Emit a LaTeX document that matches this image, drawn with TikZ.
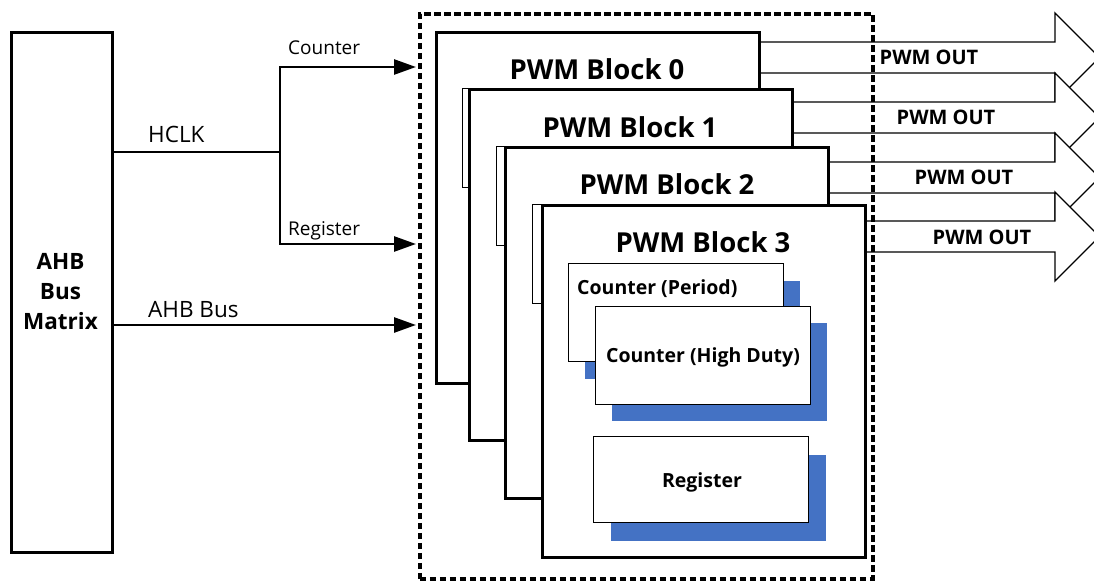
\documentclass[tikz,border=0pt]{standalone}
\usepackage{fontspec}
\setmainfont{Open Sans}
\usetikzlibrary{arrows.meta}
\definecolor{shadowblue}{HTML}{4472C4}
\begin{document}
\begin{tikzpicture}[x=1pt,y=-1pt,
  thickline/.style={line width=2.6pt},
  sig/.style={line width=2.6pt,-{Triangle[length=22pt,width=15pt]}},
  blockbox/.style={draw,line width=2.6pt,fill=white,minimum width=323pt,minimum height=351pt,anchor=north west,inner sep=0pt},
  backbox/.style={draw,line width=1.2pt,fill=white,minimum width=40pt,minimum height=99pt,anchor=north west,inner sep=0pt},
  innerbox/.style={draw,line width=1.4pt,fill=white,minimum width=215pt,anchor=north west,inner sep=0pt},
  shadowbox/.style={fill=shadowblue,minimum width=215pt,anchor=north west,inner sep=0pt},
  outarrow/.style={draw,line width=1.3pt,fill=white,line join=miter},
  title/.style={font=\fontsize{27.5}{30}\selectfont\bfseries,anchor=base,inner sep=0pt},
  outlabel/.style={font=\fontsize{20}{22}\selectfont\bfseries,anchor=base,inner sep=0pt},
  siglabel/.style={font=\fontsize{19}{20}\selectfont,anchor=base west,inner sep=0pt},
  biglabel/.style={font=\fontsize{22.5}{24}\selectfont,anchor=base west,inner sep=0pt},
  innerlabel/.style={font=\fontsize{19.5}{21}\selectfont\bfseries,inner sep=0pt},
  groupbox/.style={draw,line width=3.5pt,dash pattern=on 6.5pt off 3.5pt,minimum width=453pt,minimum height=565pt,anchor=north west,inner sep=0pt}
]
\useasboundingbox (0,0) rectangle (1094,581);
\fill[white] (0,0) rectangle (1094,581);

% AHB Bus Matrix
\node[draw,line width=2.6pt,minimum width=101pt,minimum height=520pt,anchor=north west,inner sep=0pt] (ahb) at (10,31) {};
\node[font=\fontsize{22.5}{30}\selectfont\bfseries,align=center,inner sep=0pt] (ahbt) at (60.5,292) {AHB\\Bus\\Matrix};

% output arrows (drawn behind blocks)
\foreach \t/\xs [count=\i from 0] in {42/740,102/775,162/810,221/845}{
  \draw[outarrow] (\xs,\t) -- (1055,\t) -- (1055,\t-29) -- (1099.5,\t+15.5) -- (1055,\t+60) -- (1055,\t+31) -- (\xs,\t+31) -- cycle;
}
\node[outlabel] (o0) at (929,64) {PWM OUT};
\node[outlabel] (o1) at (946,124) {PWM OUT};
\node[outlabel] (o2) at (964,184) {PWM OUT};
\node[outlabel] (o3) at (982,244) {PWM OUT};

% blocks
\node[blockbox] (b0) at (435,31) {};
\node[title] (t0) at (597,79) {PWM Block 0};
\node[backbox] (k1) at (462,88) {};
\node[blockbox] (b1) at (468,88) {};
\node[title] (t1) at (630,137) {PWM Block 1};
\node[backbox] (k2) at (496,146) {};
\node[blockbox] (b2) at (504,146) {};
\node[title] (t2) at (667,194) {PWM Block 2};
\node[backbox] (k3) at (532,204) {};
\node[blockbox,minimum height=352pt] (b3) at (541,204) {};
\node[title] (t3) at (703,252) {PWM Block 3};

% inner boxes
\node[shadowbox,minimum height=98pt] (cps) at (585,281) {};
\node[innerbox,minimum height=98pt] (cp) at (568,263) {};
\node[innerlabel,anchor=base west] (cpt) at (577,294) {Counter (Period)};
\node[shadowbox,minimum height=98pt] (chs) at (612,323) {};
\node[innerbox,minimum height=98pt] (ch) at (595,306) {};
\node[innerlabel,anchor=base] (cht) at (703,362) {Counter (High Duty)};
\node[shadowbox,minimum height=86pt] (rgs) at (611,455) {};
\node[innerbox,minimum height=86pt] (rg) at (593,436) {};
\node[innerlabel,anchor=base] (rgt) at (702,487) {Register};

% group boundary
\node[groupbox] (grp) at (418,12) {};

% left signals
\coordinate (j) at (280,152);
\coordinate (cin) at (416,67);
\coordinate (rin) at (416,244);
\coordinate (ain) at (416,325);
\draw[thickline] (ahb.east |- j) -- (j);
\draw[sig] (j) |- (cin);
\draw[sig] (j) |- (rin);
\draw[sig] (ahb.east |- ain) -- (ain);
\node[siglabel] (lc) at (288,54) {Counter};
\node[siglabel] (lr) at (288,235) {Register};
\node[biglabel] (lh) at (148,142) {HCLK};
\node[biglabel] (la) at (148,317) {AHB Bus};
\end{tikzpicture}
\end{document}
